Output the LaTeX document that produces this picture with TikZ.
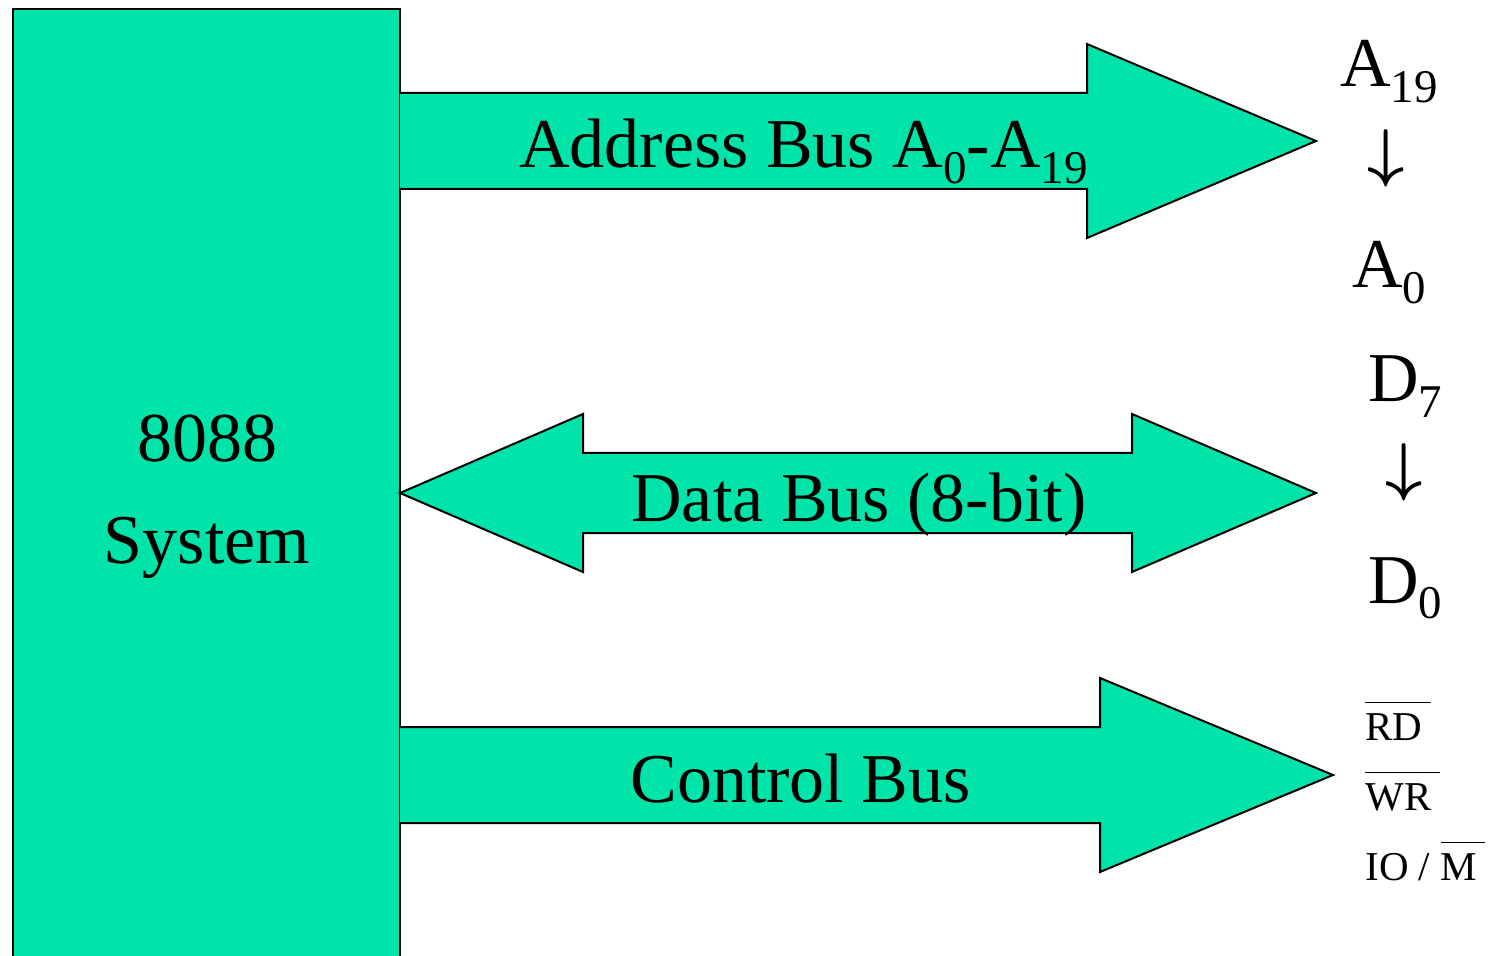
\documentclass[tikz,border=0pt]{standalone}
\usepackage{fontspec}
\setmainfont{Liberation Serif}
\usetikzlibrary{positioning}
\definecolor{busgreen}{RGB}{0,228,170}
\newcommand{\lowidx}[1]{\raisebox{-0.22em}{\scalebox{0.67}{#1}}}
\newcommand{\ovl}[1]{\vbox{\hrule height 0.6pt\kern0.25em\hbox{#1\kern0.2em}}}
\newcommand{\dnarrow}{\scalebox{1.3}{\boldmath$\downarrow$}}

\begin{document}
\begin{tikzpicture}[x=0.5pt, y=-0.5pt,
	blk/.style={draw, fill=busgreen, line width=1pt, line join=miter},
	big/.style={font=\fontsize{35}{42}\selectfont, inner sep=0pt},
	small/.style={font=\fontsize{20.5}{24}\selectfont, inner sep=0pt}]
\useasboundingbox (0,0) rectangle (1492,956);
\clip (0,0) rectangle (1492,956);
% system block
\draw[blk] (13,9) rectangle (400,980);
\node[big,anchor=base] (sys1) at (207,462) {8088};
\node[big,anchor=base] (sys2) at (207,563) {System};
% address bus
\draw[blk] (400,93) -- (1087,93) -- (1087,44) -- (1316,141) -- (1087,238)
	-- (1087,189) -- (400,189);
\node[big,anchor=base west] (addr) at (519,168) {Address Bus A\lowidx{0}-A\lowidx{19}};
% data bus
\draw[blk] (400,493) -- (583,414) -- (583,453) -- (1132,453) -- (1132,414)
	-- (1316,493) -- (1132,572) -- (1132,533) -- (583,533) -- (583,572) -- cycle;
\node[big,anchor=base west] (data) at (631,521) {Data Bus (8-bit)};
% control bus
\draw[blk] (400,727) -- (1100,727) -- (1100,678) -- (1333,775) -- (1100,872)
	-- (1100,823) -- (400,823);
\node[big,anchor=base west] (ctrl) at (630,802) {Control Bus};
% signal lines
\node[big,anchor=base west] (a19) at (1340,87) {A\lowidx{19}};
\node[big] (adown) at (1386,158) {\dnarrow};
\node[big,anchor=base west] (a0) at (1352,288) {A\lowidx{0}};
\node[big,anchor=base west] (d7) at (1368,402) {D\lowidx{7}};
\node[big] (ddown) at (1404,472) {\dnarrow};
\node[big,anchor=base west] (d0) at (1368,603) {D\lowidx{0}};
\node[small,anchor=base west] (rd) at (1365,740) {\ovl{RD}};
\node[small,anchor=base west] (wr) at (1365,810) {\ovl{WR}};
\node[small,anchor=base west] (iom) at (1365,880) {IO / \ovl{M}};
\end{tikzpicture}
\end{document}
